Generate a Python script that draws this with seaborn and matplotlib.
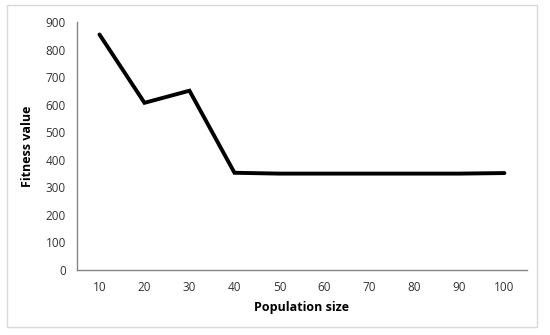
import matplotlib
matplotlib.use("Agg")
import matplotlib.pyplot as plt
import seaborn as sns
import pandas as pd
from matplotlib.patches import Rectangle

categories = ["10", "20", "30", "40", "50", "60", "70", "80", "90", "100"]
fitness = [855, 607, 651, 353, 350, 350, 350, 350, 350, 352]

sns.set_theme(style="white")
plt.rcParams['font.family'] = ['Open Sans', 'DejaVu Sans']

df = pd.DataFrame({"pos": list(range(len(categories))), "fitness": fitness})

fig = plt.figure(figsize=(5.5, 3.35), dpi=100)
ax = fig.add_axes([0.14, 0.194, 0.818, 0.74])

sns.lineplot(data=df, x="pos", y="fitness", ax=ax, color="black", linewidth=2.8,
             solid_joinstyle="miter")

axis_col = "#868686"
ax.set_xlim(-0.5, len(categories) - 0.5)
ax.set_ylim(0, 900)
ax.set_yticks(range(0, 901, 100))
ax.set_xticks(range(len(categories)))
ax.set_xticklabels(categories)
ax.set_xticks([i - 0.5 for i in range(len(categories) + 1)], minor=True)
ax.tick_params(axis="x", which="major", length=0, pad=8, labelsize=8.5, colors="#333333")
ax.tick_params(axis="x", which="minor", length=4, width=1, color=axis_col, direction="out")
ax.tick_params(axis="y", which="major", length=4, width=1, color=axis_col, labelsize=8.5,
               labelcolor="#333333", direction="out", pad=4)

for s in ["top", "right"]:
    ax.spines[s].set_visible(False)
for s in ["left", "bottom"]:
    ax.spines[s].set_color(axis_col)
    ax.spines[s].set_linewidth(1)

ax.set_xlabel("Population size", fontsize=9, fontweight="bold", labelpad=5, color="black")
ax.set_ylabel("Fitness value", fontsize=9, fontweight="bold", labelpad=8, color="black")

fig.patches.append(Rectangle((7 / 550, 1 - 327 / 335), 530 / 550, 322 / 335,
                             transform=fig.transFigure, fill=False,
                             edgecolor="#D9D9D9", linewidth=1))

fig.savefig("out.png", dpi=100)
